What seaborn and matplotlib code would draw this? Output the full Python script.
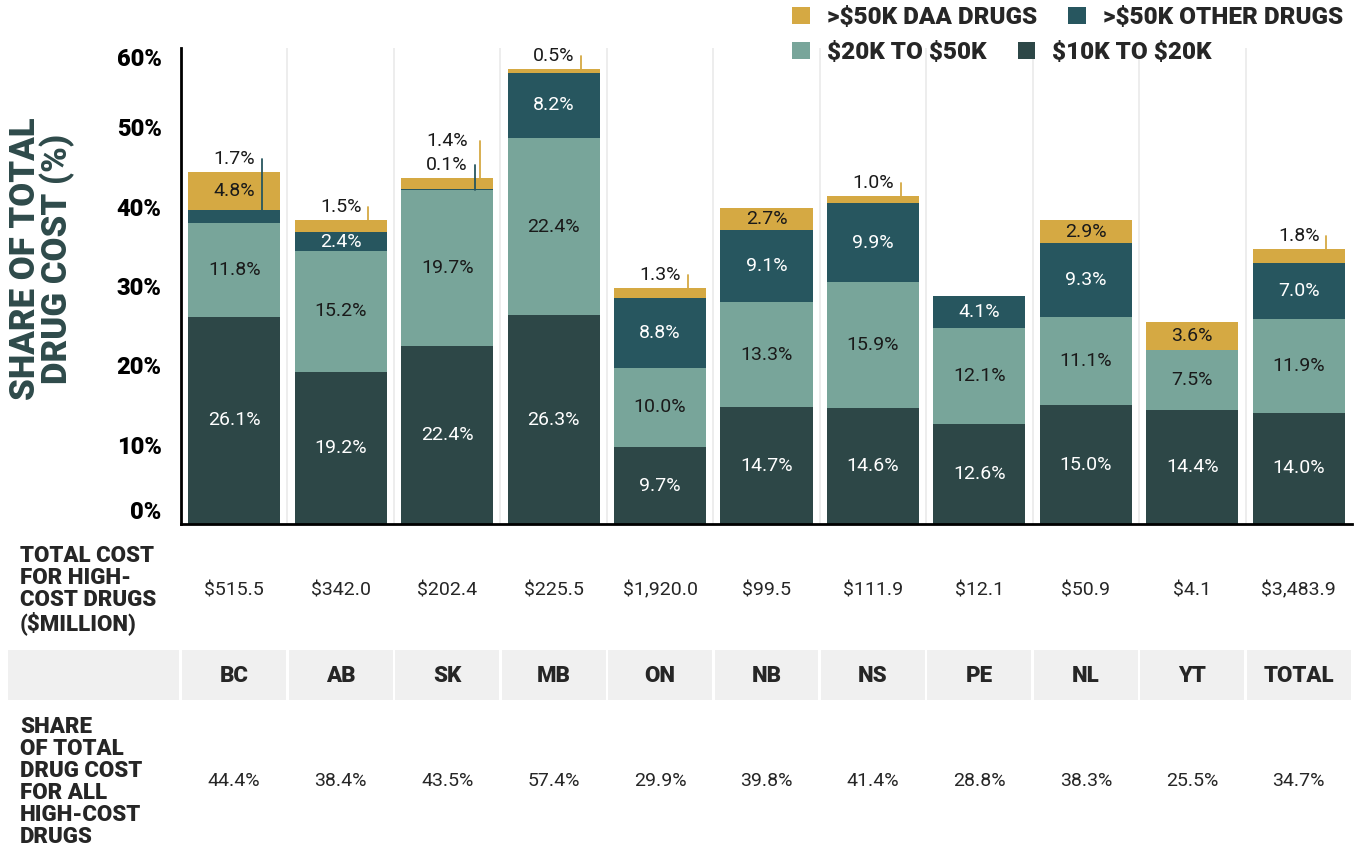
import matplotlib
matplotlib.use("Agg")
import numpy as np
import pandas as pd
import seaborn as sns
import matplotlib.pyplot as plt
import matplotlib.transforms as mtransforms
from matplotlib.patches import Rectangle, Patch

# data
regions = ["BC", "AB", "SK", "MB", "ON", "NB", "NS", "PE", "NL", "YT", "TOTAL"]
band_10_20 = [26.1, 19.2, 22.4, 26.3, 9.7, 14.7, 14.6, 12.6, 15.0, 14.4, 14.0]
band_20_50 = [11.8, 15.2, 19.7, 22.4, 10.0, 13.3, 15.9, 12.1, 11.1, 7.5, 11.9]
over_50_other = [1.7, 2.4, 0.1, 8.2, 8.8, 9.1, 9.9, 4.1, 9.3, 0.0, 7.0]
over_50_daa = [4.8, 1.5, 1.4, 0.5, 1.3, 2.7, 1.0, 0.0, 2.9, 3.6, 1.8]
total_cost = ["$515.5", "$342.0", "$202.4", "$225.5", "$1,920.0", "$99.5",
              "$111.9", "$12.1", "$50.9", "$4.1", "$3,483.9"]
share_total = ["44.4%", "38.4%", "43.5%", "57.4%", "29.9%", "39.8%",
               "41.4%", "28.8%", "38.3%", "25.5%", "34.7%"]
series_names = ["$10K TO $20K", "$20K TO $50K", ">$50K OTHER DRUGS", ">$50K DAA DRUGS"]

colors = ["#2d4747", "#78a59a", "#27565f", "#d5a943"]
text_colors = ["white", "#1a1a1a", "white", "#1a1a1a"]

W, H = 1361, 846
sns.set_style("white")
plt.rcParams["font.family"] = ["Roboto", "DejaVu Sans"]
plt.rcParams["text.parse_math"] = False
HEAVY = "black"

df = pd.DataFrame({"region": regions, "s1": band_10_20, "s2": band_20_50,
                   "s3": over_50_other, "s4": over_50_daa})
cols = ["s1", "s2", "s3", "s4"]
cum = df[cols].cumsum(axis=1)

fig = plt.figure(figsize=(W / 100, H / 100), dpi=100)
ax = fig.add_axes([181 / W, 1 - 524 / H, (1352 - 181) / W, (524 - 48) / H])

def fy(py):
    return 1 - py / H

# stacked bars: draw cumulative heights from the top layer down
bw = 0.865
for i in [3, 2, 1, 0]:
    sns.barplot(x=df["region"], y=cum[cols[i]], color=colors[i], saturation=1,
                width=bw, linewidth=0, ax=ax, zorder=2)

for k in range(len(regions) - 1):
    ax.axvline(k + 0.5, color="#ececec", lw=1.3, zorder=0)

ax.set_xlim(-0.5, len(regions) - 0.5)
ax.set_ylim(0, 60)
ax.set_yticks(range(0, 61, 10))
ax.set_yticklabels([f"{v}%" for v in range(0, 61, 10)], fontsize=17, fontweight=HEAVY)
ticklabs = ax.get_yticklabels()
ticklabs[0].set_va("bottom")
ticklabs[-1].set_va("top")
ax.set_xticks([])
ax.set_xlabel("")
ax.set_ylabel("")
ax.tick_params(axis="y", length=0, pad=14, labelcolor="black")
for s in ["top", "right"]:
    ax.spines[s].set_visible(False)
for s in ["left", "bottom"]:
    ax.spines[s].set_linewidth(2)
    ax.spines[s].set_color("black")

# segment labels
for j in range(len(regions)):
    tops = cum.iloc[j].values
    vals = df[cols].iloc[j].values
    outside = [i for i in [2, 3] if 0 < vals[i] < 2.0]
    for i in range(4):
        v = vals[i]
        if v <= 0 or i in outside:
            continue
        ax.text(j, tops[i] - v / 2, f"{v:.1f}%", ha="center", va="center",
                fontsize=14, color=text_colors[i], zorder=4)
    for n, i in enumerate(outside):
        ly = tops[3] + 1.6 + 3.1 * n
        ax.text(j, ly, f"{vals[i]:.1f}%", ha="center", va="center",
                fontsize=14, color="#1a1a1a", zorder=4, clip_on=False)
        lx = j + 0.26 + 0.05 * n
        ax.plot([lx, lx], [ly, tops[i] - vals[i] / 2], color=colors[i],
                lw=1.3, zorder=3, clip_on=False)

# y label
fig.text(42 / W, fy(259), "SHARE OF TOTAL\nDRUG COST (%)", rotation=90,
         ha="center", va="center", multialignment="center", fontsize=25,
         fontweight=HEAVY, color="#2e4a4a", linespacing=0.92)

# legend, two rows
names = {n: c for n, c in zip(series_names, colors)}
rows = [[">$50K DAA DRUGS", ">$50K OTHER DRUGS"], ["$20K TO $50K", "$10K TO $20K"]]
for r, (row, top) in enumerate(zip(rows, [6, 41])):
    handles = [Patch(facecolor=names[n], edgecolor="none") for n in row]
    fig.legend(handles, row, loc="upper left", bbox_to_anchor=(792 / W, fy(top)),
               ncol=2, frameon=False, borderaxespad=0, borderpad=0,
               handlelength=0.72, handleheight=0.72, handletextpad=0.7,
               columnspacing=1.3, prop={"size": 17.5, "weight": HEAVY})

# table under the chart
trans = mtransforms.blended_transform_factory(ax.transData, fig.transFigure)
fig.add_artist(Rectangle((8 / W, fy(700)), (179 - 8) / W, 50 / H,
                         facecolor="#f0f0f0", edgecolor="none"))
for j, name in enumerate(regions):
    fig.add_artist(Rectangle((j - 0.5 + 0.012, fy(700)), 1 - 0.024, 50 / H,
                             transform=trans, facecolor="#f0f0f0", edgecolor="none"))
    fig.text(j, fy(676), name, transform=trans, ha="center", va="center",
             fontsize=16, fontweight=HEAVY)
    fig.text(j, fy(590), total_cost[j], transform=trans, ha="center", va="center",
             fontsize=14)
    fig.text(j, fy(781), share_total[j], transform=trans, ha="center", va="center",
             fontsize=14)

fig.text(20 / W, fy(590), "TOTAL COST\nFOR HIGH-\nCOST DRUGS\n($MILLION)",
         ha="left", va="center", fontsize=16, fontweight=HEAVY, linespacing=1.0)
fig.text(20 / W, fy(782), "SHARE\nOF TOTAL\nDRUG COST\nFOR ALL\nHIGH-COST\nDRUGS",
         ha="left", va="center", fontsize=16, fontweight=HEAVY, linespacing=1.0)

fig.savefig("out.png", dpi=100)
